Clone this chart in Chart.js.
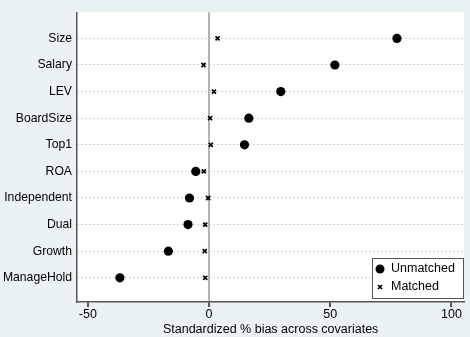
<!DOCTYPE html>
<html lang="en">
<head>
    <meta charset="utf-8">
    <title>Standardized bias</title>
    <script src="https://cdn.jsdelivr.net/npm/chart.js"></script>
    <style>
        html, body { margin: 0; padding: 0; background: #eaf2f3; }
        #wrap { width: 470px; height: 337px; position: relative; }
    </style>
</head>
<body>
    <div id="wrap"><canvas id="biasChart"></canvas></div>

    <script>
        // covariates, top to bottom
        const covariates = ['Size', 'Salary', 'LEV', 'BoardSize', 'Top1', 'ROA', 'Independent', 'Dual', 'Growth', 'ManageHold'];
        const unmatched = [77.5, 51.9, 29.6, 16.4, 14.6, -5.5, -8.1, -8.7, -16.8, -36.8];
        const matched = [3.5, -2.3, 2.0, 0.4, 0.7, -2.2, -0.4, -1.6, -1.8, -1.6];
        const xTicks = [-50, 0, 50, 100];

        const toPoints = (vals) => vals.map((v, i) => ({ x: v, y: i }));
        const fontFam = '"Liberation Sans", Arial, sans-serif';

        // white plot region + legend box inside the plot
        const plotBg = {
            id: 'plotBg',
            beforeDraw(chart) {
                const { ctx, chartArea: a } = chart;
                ctx.save();
                ctx.fillStyle = '#ffffff';
                ctx.fillRect(a.left, a.top, a.right - a.left, a.bottom - a.top);
                ctx.restore();
            },
            afterDraw(chart) {
                const ctx = chart.ctx;
                const bx = 372, by = 258, bw = 91, bh = 40;
                ctx.save();
                ctx.fillStyle = '#ffffff';
                ctx.fillRect(bx, by, bw, bh);
                ctx.strokeStyle = '#555';
                ctx.lineWidth = 1;
                ctx.strokeRect(bx + 0.5, by + 0.5, bw, bh);
                ctx.fillStyle = '#000';
                ctx.beginPath();
                ctx.arc(380, 269, 4.5, 0, Math.PI * 2);
                ctx.fill();
                ctx.strokeStyle = '#000';
                ctx.lineWidth = 1.7;
                ctx.beginPath();
                ctx.moveTo(378, 285); ctx.lineTo(382, 289);
                ctx.moveTo(382, 285); ctx.lineTo(378, 289);
                ctx.stroke();
                ctx.font = '12.5px ' + fontFam;
                ctx.textBaseline = 'middle';
                ctx.fillText('Unmatched', 391, 269);
                ctx.fillText('Matched', 391, 287);
                ctx.restore();
            }
        };

        const ctx = document.getElementById('biasChart').getContext('2d');
        const biasChart = new Chart(ctx, {
            type: 'scatter',
            data: {
                datasets: [{
                    label: 'Unmatched',
                    data: toPoints(unmatched),
                    pointStyle: 'circle',
                    pointRadius: 4.6,
                    backgroundColor: '#000',
                    borderColor: '#000',
                    borderWidth: 0
                }, {
                    label: 'Matched',
                    data: toPoints(matched),
                    pointStyle: 'crossRot',
                    pointRadius: 2.9,
                    borderColor: '#000',
                    borderWidth: 1.7
                }]
            },
            options: {
                responsive: true,
                maintainAspectRatio: false,
                animation: false,
                layout: { padding: { top: 2, right: 3, left: 0, bottom: 0 } },
                plugins: {
                    legend: { display: false },
                    tooltip: { enabled: false }
                },
                scales: {
                    x: {
                        type: 'linear',
                        min: -54.5,
                        max: 105.3,
                        afterBuildTicks: (scale) => { scale.ticks = xTicks.map(v => ({ value: v })); },
                        afterFit: (scale) => { scale.height = 35; },
                        grid: {
                            drawOnChartArea: true,
                            color: (c) => (c.tick && c.tick.value === 0) ? '#b4b4b4' : 'rgba(0,0,0,0)',
                            lineWidth: 2,
                            tickColor: '#555',
                            tickLength: 5
                        },
                        border: { color: '#555', width: 1.5 },
                        ticks: {
                            color: '#000',
                            font: { family: fontFam, size: 12.5 },
                            padding: 0,
                            maxRotation: 0
                        },
                        title: {
                            display: true,
                            text: 'Standardized % bias across covariates',
                            color: '#000',
                            font: { family: fontFam, size: 12.5 },
                            padding: { top: -3, bottom: 0 }
                        }
                    },
                    y: {
                        type: 'linear',
                        reverse: true,
                        min: -0.98,
                        max: 9.91,
                        afterBuildTicks: (scale) => { scale.ticks = covariates.map((c, i) => ({ value: i })); },
                        afterFit: (scale) => { scale.width = 77; },
                        grid: {
                            color: '#a8a8a8',
                            lineWidth: 1,
                            drawTicks: false
                        },
                        // dotted horizontal grid lines
                        border: { color: '#555', width: 1.5, dash: [1, 3] },
                        ticks: {
                            color: '#000',
                            font: { family: fontFam, size: 12.2 },
                            padding: 5,
                            callback: (v) => covariates[v]
                        }
                    }
                }
            },
            plugins: [plotBg]
        });
    </script>
</body>
</html>
